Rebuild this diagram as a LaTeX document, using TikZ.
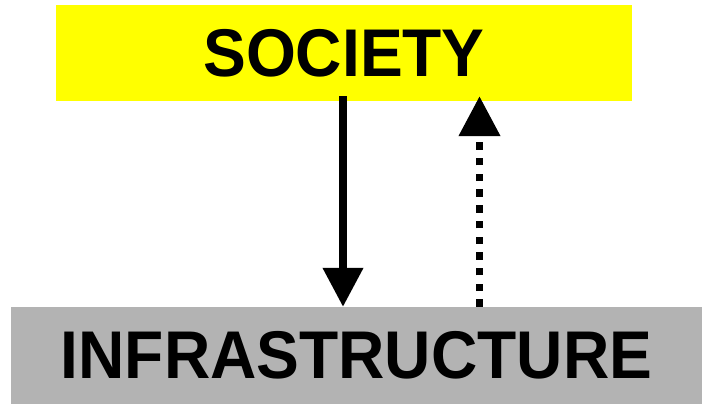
\documentclass[tikz,border=0pt]{standalone}
\usepackage{fontspec}
\newfontfamily\labelfont{Liberation Sans}[FakeStretch=0.95]
\usepackage{xcolor}
\definecolor{socyellow}{RGB}{255,255,0}
\definecolor{infgray}{RGB}{179,179,179}
\usetikzlibrary{arrows.meta}

\begin{document}
\begin{tikzpicture}[x=1pt, y=1pt,
    layer/.style={rectangle, inner sep=0pt, font=\labelfont\bfseries\fontsize{67.5}{70}\selectfont},
    flow/.style={line width=7.4pt, -{Triangle[length=39pt, width=39pt]}},
    feedback/.style={line width=7.6pt, dash pattern=on 7.4pt off 8.3pt, -{Triangle[length=40pt, width=40pt]}}]
  \useasboundingbox (0,0) rectangle (702,404);

  % Layers
  \node[layer, fill=socyellow, minimum width=576pt, minimum height=96pt] (society) at (344,351) {SOCIETY};
  \node[layer, fill=infgray, minimum width=691pt, minimum height=97pt] (infra) at (356.5,48.5) {INFRASTRUCTURE};

  % Arrows between layers
  \coordinate (downstart) at ([xshift=-1pt, yshift=5pt]society.south);
  \coordinate (uptip) at ([xshift=135.5pt, yshift=5pt]society.south);
  \draw[flow] (downstart) -- (downstart |- infra.north);
  \draw[feedback] (uptip |- infra.north) -- (uptip);
\end{tikzpicture}
\end{document}
